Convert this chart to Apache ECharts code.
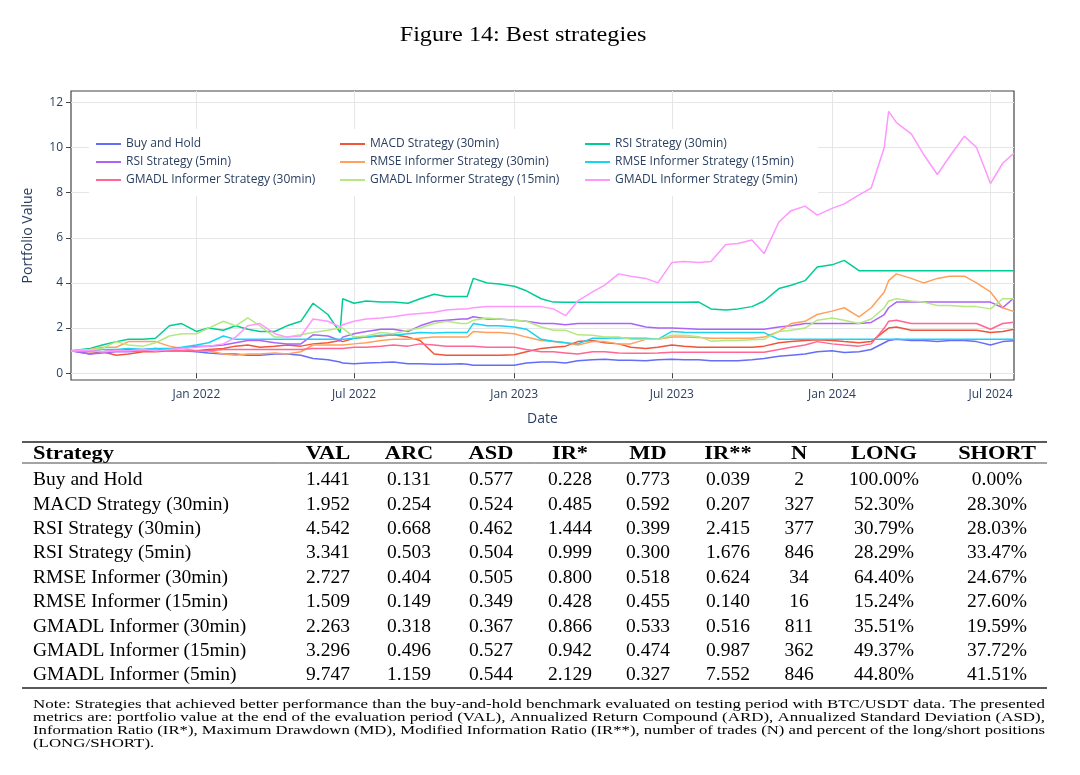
<!DOCTYPE html>
<html>
<head>
<meta charset="utf-8">
<script src="https://cdn.jsdelivr.net/npm/echarts@6.0.0/dist/echarts.min.js"></script>
<style>
html,body{margin:0;padding:0;background:#fff;}
#chart{width:1080px;height:775px;}
</style>
</head>
<body>
<div id="chart"></div>
<script>
// ---------------- DATA ----------------
const dates = [
  '2021-08-10','2021-09-01','2021-09-15','2021-10-01','2021-10-15','2021-11-01','2021-11-15','2021-12-01','2021-12-15',
  '2022-01-01','2022-01-15','2022-02-01','2022-02-15','2022-03-01','2022-03-15','2022-04-01','2022-04-15','2022-05-01','2022-05-15','2022-06-01','2022-06-15','2022-06-18','2022-07-01','2022-07-15','2022-08-01','2022-08-15','2022-09-01','2022-09-15','2022-10-01','2022-10-15','2022-11-01','2022-11-08','2022-11-15','2022-12-01','2022-12-15',
  '2023-01-01','2023-01-15','2023-02-01','2023-02-15','2023-03-01','2023-03-15','2023-04-01','2023-04-15','2023-05-01','2023-05-15','2023-06-01','2023-06-15','2023-07-01','2023-07-15','2023-08-01','2023-08-15','2023-09-01','2023-09-15','2023-10-01','2023-10-15','2023-11-01','2023-11-15','2023-12-01','2023-12-15',
  '2024-01-01','2024-01-15','2024-02-01','2024-02-15','2024-03-01','2024-03-06','2024-03-15','2024-04-01','2024-04-15','2024-05-01','2024-05-15','2024-06-01','2024-06-15','2024-07-01','2024-07-15','2024-07-28'
];

const buyAndHold = [
  1.0,0.85,0.95,1.0,1.05,1.05,1.1,1.0,1.0,
  0.95,0.9,0.85,0.85,0.8,0.8,0.85,0.85,0.8,0.65,0.6,0.5,0.45,0.42,0.45,0.47,0.5,0.42,0.42,0.4,0.4,0.42,0.4,0.35,0.35,0.35,
  0.35,0.45,0.5,0.5,0.45,0.55,0.6,0.62,0.58,0.58,0.55,0.6,0.62,0.6,0.6,0.55,0.55,0.55,0.6,0.65,0.75,0.8,0.85,0.95,
  1.0,0.92,0.95,1.05,1.35,1.45,1.5,1.45,1.45,1.4,1.45,1.45,1.4,1.25,1.4,1.44
];
const macd30 = [
  1.0,0.95,0.95,0.8,0.85,0.95,0.95,1.0,1.0,
  1.0,1.05,1.1,1.2,1.25,1.15,1.2,1.25,1.2,1.3,1.35,1.45,1.4,1.55,1.6,1.65,1.7,1.6,1.45,0.85,0.8,0.8,0.8,0.8,0.8,0.8,
  0.82,0.95,1.1,1.15,1.2,1.4,1.45,1.35,1.3,1.15,1.1,1.15,1.25,1.2,1.15,1.15,1.15,1.15,1.15,1.2,1.35,1.4,1.45,1.48,
  1.45,1.4,1.35,1.4,1.85,2.0,2.05,1.9,1.9,1.9,1.9,1.9,1.9,1.8,1.85,1.95
];
const rsi30 = [
  1.0,1.1,1.25,1.4,1.5,1.5,1.55,2.1,2.2,
  1.85,2.0,1.9,2.1,1.95,1.85,1.85,2.1,2.3,3.1,2.6,1.8,3.3,3.1,3.2,3.15,3.15,3.1,3.3,3.5,3.4,3.4,3.4,4.2,4.0,3.95,
  3.85,3.65,3.3,3.15,3.14,3.14,3.14,3.14,3.14,3.14,3.14,3.14,3.14,3.14,3.15,2.85,2.8,2.85,2.95,3.2,3.75,3.9,4.1,4.7,
  4.8,5.0,4.54,4.54,4.54,4.54,4.54,4.54,4.54,4.54,4.54,4.54,4.54,4.54,4.54,4.54
];
const rsi5 = [
  1.0,0.85,0.9,0.95,0.95,1.0,1.0,1.05,1.1,
  1.2,1.2,1.25,1.35,1.45,1.45,1.35,1.3,1.3,1.7,1.65,1.45,1.6,1.75,1.85,1.95,1.95,1.85,2.1,2.3,2.35,2.4,2.4,2.5,2.4,2.4,
  2.35,2.3,2.2,2.2,2.15,2.2,2.2,2.2,2.2,2.2,2.05,2.0,2.0,1.98,1.95,1.95,1.95,1.95,1.95,1.95,2.05,2.1,2.2,2.2,
  2.2,2.2,2.2,2.25,2.6,2.9,3.15,3.15,3.15,3.15,3.15,3.15,3.15,3.15,2.9,3.34
];
const rmse30 = [
  1.0,1.05,1.15,1.15,1.4,1.4,1.4,1.2,1.1,
  1.0,1.0,0.85,0.8,0.85,0.85,0.9,0.85,0.95,1.25,1.25,1.25,1.25,1.3,1.35,1.45,1.5,1.5,1.55,1.6,1.6,1.6,1.6,1.85,1.8,1.8,
  1.75,1.6,1.45,1.4,1.35,1.25,1.4,1.4,1.3,1.3,1.5,1.5,1.6,1.6,1.58,1.55,1.55,1.55,1.55,1.6,1.85,2.2,2.3,2.6,
  2.75,2.9,2.5,2.9,3.6,4.1,4.4,4.2,4.0,4.2,4.3,4.3,4.0,3.6,2.9,2.73
];
const rmse15 = [
  1.0,1.0,1.05,1.05,1.1,1.05,1.1,1.1,1.15,
  1.25,1.35,1.65,1.5,1.5,1.5,1.5,1.5,1.5,1.5,1.5,1.5,1.5,1.55,1.6,1.68,1.68,1.75,1.8,1.78,1.8,1.8,1.8,2.2,2.1,2.1,
  2.05,1.95,1.5,1.42,1.35,1.3,1.55,1.55,1.57,1.55,1.55,1.5,1.85,1.82,1.8,1.8,1.8,1.8,1.8,1.8,1.5,1.5,1.5,1.5,
  1.5,1.5,1.5,1.5,1.5,1.5,1.5,1.5,1.5,1.5,1.5,1.5,1.5,1.5,1.5,1.51
];
const gmadl30 = [
  1.0,1.0,0.95,1.0,1.0,1.0,1.0,1.0,1.0,
  1.0,1.0,1.05,1.05,1.05,1.05,1.05,1.05,1.05,1.1,1.1,1.1,1.1,1.15,1.15,1.2,1.25,1.2,1.3,1.25,1.2,1.2,1.2,1.2,1.15,1.15,
  1.15,1.05,0.95,0.95,0.9,0.85,0.95,0.95,0.9,0.88,0.88,0.9,0.93,0.93,0.93,0.93,0.93,0.93,0.93,0.93,1.05,1.15,1.25,1.4,
  1.3,1.25,1.2,1.3,2.0,2.3,2.35,2.2,2.2,2.2,2.2,2.2,2.2,1.95,2.2,2.26
];
const gmadl15 = [
  1.0,1.05,1.1,1.4,1.25,1.2,1.35,1.65,1.75,
  1.75,2.0,2.3,2.1,2.45,2.1,1.6,1.6,1.7,1.8,1.9,2.0,2.0,1.6,1.65,1.8,1.75,1.9,2.0,2.2,2.3,2.2,2.2,2.35,2.45,2.4,
  2.35,2.3,2.05,1.9,1.9,1.7,1.68,1.6,1.6,1.5,1.5,1.5,1.68,1.68,1.62,1.42,1.45,1.45,1.48,1.5,1.85,1.9,2.0,2.35,
  2.45,2.35,2.2,2.4,2.9,3.2,3.3,3.2,3.15,3.0,3.0,2.95,2.95,2.85,3.3,3.3
];
const gmadl5 = [
  1.0,1.0,0.95,1.0,1.0,1.05,1.0,1.05,1.1,
  1.15,1.2,1.3,1.6,2.1,2.2,1.75,1.6,1.65,2.4,2.3,2.05,2.15,2.3,2.4,2.45,2.5,2.6,2.65,2.7,2.8,2.85,2.85,2.9,2.95,2.95,
  2.95,2.95,2.95,2.85,2.55,3.2,3.6,3.9,4.4,4.3,4.2,4.0,4.9,4.95,4.9,4.95,5.7,5.75,5.9,5.3,6.7,7.2,7.4,7.0,
  7.3,7.5,7.9,8.2,10.0,11.6,11.1,10.6,9.7,8.8,9.6,10.5,10.0,8.4,9.3,9.75
];

const seriesNames = [
  'Buy and Hold','MACD Strategy (30min)','RSI Strategy (30min)',
  'RSI Strategy (5min)','RMSE Informer Strategy (30min)','RMSE Informer Strategy (15min)',
  'GMADL Informer Strategy (30min)','GMADL Informer Strategy (15min)','GMADL Informer Strategy (5min)'
];
const seriesValues = [buyAndHold, macd30, rsi30, rsi5, rmse30, rmse15, gmadl30, gmadl15, gmadl5];

const yTicks = [0, 2, 4, 6, 8, 10, 12];
const xTickDates = ['2022-01-01','2022-07-01','2023-01-01','2023-07-01','2024-01-01','2024-07-01'];
const xTickLabels = ['Jan 2022','Jul 2022','Jan 2023','Jul 2023','Jan 2024','Jul 2024'];

// table
const tableHeaders = ['Strategy','VAL','ARC','ASD','IR*','MD','IR**','N','LONG','SHORT'];
const tableStrategy = ['Buy and Hold','MACD Strategy (30min)','RSI Strategy (30min)','RSI Strategy (5min)','RMSE Informer (30min)','RMSE Informer (15min)','GMADL Informer (30min)','GMADL Informer (15min)','GMADL Informer (5min)'];
const tableVAL = ['1.441','1.952','4.542','3.341','2.727','1.509','2.263','3.296','9.747'];
const tableARC = ['0.131','0.254','0.668','0.503','0.404','0.149','0.318','0.496','1.159'];
const tableASD = ['0.577','0.524','0.462','0.504','0.505','0.349','0.367','0.527','0.544'];
const tableIR1 = ['0.228','0.485','1.444','0.999','0.800','0.428','0.866','0.942','2.129'];
const tableMD = ['0.773','0.592','0.399','0.300','0.518','0.455','0.533','0.474','0.327'];
const tableIR2 = ['0.039','0.207','2.415','1.676','0.624','0.140','0.516','0.987','7.552'];
const tableN = ['2','327','377','846','34','16','811','362','846'];
const tableLONG = ['100.00%','52.30%','30.79%','28.29%','64.40%','15.24%','35.51%','49.37%','44.80%'];
const tableSHORT = ['0.00%','28.30%','28.03%','33.47%','24.67%','27.60%','19.59%','37.72%','41.51%'];

const titleText = 'Figure 14: Best strategies';
const noteLines = [
  'Note: Strategies that achieved better performance than the buy-and-hold benchmark evaluated on testing period with BTC/USDT data. The presented',
  'metrics are: portfolio value at the end of the evaluation period (VAL), Annualized Return Compound (ARD), Annualized Standard Deviation (ASD),',
  'Information Ratio (IR*), Maximum Drawdown (MD), Modified Information Ratio (IR**), number of trades (N) and percent of the long/short positions',
  '(LONG/SHORT).'
];

// ---------------- STYLE / LAYOUT ----------------
const colors = ['#636efa','#EF553B','#00cc96','#ab63fa','#FFA15A','#19d3f3','#FF6692','#B6E880','#FF97FF'];
const axisColor = '#2a3f5f';
const sans = '"Open Sans", sans-serif';
const serif = '"Liberation Serif", serif';

function ts(s) { const p = s.split('-').map(Number); return Date.UTC(p[0], p[1] - 1, p[2]); }
const xTickTimes = xTickDates.map(ts);

const series = seriesNames.map((name, i) => ({
  name: name,
  type: 'line',
  symbol: 'none',
  showSymbol: false,
  animation: false,
  lineStyle: { width: 1.5, color: colors[i] },
  itemStyle: { color: colors[i] },
  data: dates.map((d, k) => [ts(d), seriesValues[i][k]])
}));

const legendBase = {
  orient: 'vertical', top: 138, padding: 0, itemWidth: 25, itemHeight: 12, itemGap: 6,
  itemStyle: { opacity: 0 },
  lineStyle: { width: 2 },
  textStyle: { fontFamily: sans, fontSize: 12, color: axisColor }, selectedMode: false
};
const legends = [
  Object.assign({}, legendBase, { left: 95, data: [seriesNames[0], seriesNames[3], seriesNames[6]] }),
  Object.assign({}, legendBase, { left: 339, data: [seriesNames[1], seriesNames[4], seriesNames[7]] }),
  Object.assign({}, legendBase, { left: 584, data: [seriesNames[2], seriesNames[5], seriesNames[8]] })
];

// graphic: title, table, note
const graphics = [];
graphics.push({ type: 'rect', z: 3, silent: true, shape: { x: 89, y: 129, width: 729, height: 67 }, style: { fill: '#fff' } });
graphics.push({ type: 'text', z: 10, x: 523, y: 35, scaleX: 1.1, style: { text: titleText, font: '22px ' + serif, fill: '#000', textAlign: 'center', textVerticalAlign: 'middle' } });

const colX = [33, 328, 409, 491, 570, 648, 728, 799, 884, 997];
const headerY = 454;
const rowY0 = 480, rowH = 24.4;
const bodyFont = '19.5px ' + serif;
const headFont = 'bold 19.5px ' + serif;
const tableCols = [tableStrategy, tableVAL, tableARC, tableASD, tableIR1, tableMD, tableIR2, tableN, tableLONG, tableSHORT];

tableHeaders.forEach((h, c) => {
  graphics.push({ type: 'text', z: 10, x: colX[c], y: headerY, scaleX: 1.15, style: { text: h, font: headFont, fill: '#000', textAlign: c === 0 ? 'left' : 'center', textVerticalAlign: 'middle' } });
});
tableCols.forEach((col, c) => {
  col.forEach((v, r) => {
    graphics.push({ type: 'text', z: 10, x: colX[c], y: rowY0 + r * rowH, style: { text: v, font: bodyFont, fill: '#000', textAlign: c === 0 ? 'left' : 'center', textVerticalAlign: 'middle' } });
  });
});
// rules
graphics.push({ type: 'line', z: 10, shape: { x1: 22, y1: 442, x2: 1047, y2: 442 }, style: { stroke: '#222', lineWidth: 1.3 } });
graphics.push({ type: 'line', z: 10, shape: { x1: 22, y1: 463, x2: 1047, y2: 463 }, style: { stroke: '#333', lineWidth: 0.9 } });
graphics.push({ type: 'line', z: 10, shape: { x1: 22, y1: 688, x2: 1047, y2: 688 }, style: { stroke: '#222', lineWidth: 1.3 } });

// note lines (stretched to the justified width)
const noteFont = '12px ' + serif;
const mctx = document.createElement('canvas').getContext('2d');
mctx.font = noteFont;
const noteW = 1012;
const scales = noteLines.map(l => noteW / mctx.measureText(l).width);
const avgScale = (scales[0] + scales[1] + scales[2]) / 3;
noteLines.forEach((l, i) => {
  graphics.push({ type: 'text', z: 10, x: 33, y: 704.5 + i * 13, scaleX: i < 3 ? scales[i] : avgScale, style: { text: l, font: noteFont, fill: '#000', textAlign: 'left', textVerticalAlign: 'middle' } });
});

const chart = echarts.init(document.getElementById('chart'));
chart.setOption({
  animation: false,
  backgroundColor: '#fff',
  grid: { left: 71, right: 66, top: 91, bottom: 395, show: true, borderColor: '#444', borderWidth: 1.2, backgroundColor: '#fff', containLabel: false },
  legend: legends,
  xAxis: {
    type: 'value',
    min: ts(dates[0]), max: ts(dates[dates.length - 1]),
    name: 'Date', nameLocation: 'middle', nameGap: 32,
    nameTextStyle: { fontFamily: sans, fontSize: 14, color: axisColor },
    axisLine: { show: false },
    axisTick: { show: true, length: 5, lineStyle: { color: '#444' }, customValues: xTickTimes },
    axisLabel: {
      customValues: xTickTimes, fontFamily: sans, fontSize: 12, color: axisColor, margin: 9,
      formatter: function (v) { const i = xTickTimes.indexOf(v); return i >= 0 ? xTickLabels[i] : ''; }
    },
    splitLine: { show: true, lineStyle: { color: '#e6e6e6', width: 1 } }
  },
  yAxis: {
    type: 'value', min: -0.3, max: 12.5, splitNumber: 6,
    name: 'Portfolio Value', nameLocation: 'middle', nameGap: 36,
    nameTextStyle: { fontFamily: sans, fontSize: 14, color: axisColor },
    axisLine: { show: false },
    axisTick: { show: true, length: 5, lineStyle: { color: '#444' }, customValues: yTicks },
    axisLabel: { customValues: yTicks, fontFamily: sans, fontSize: 12, color: axisColor, margin: 8 },
    splitLine: { show: true, lineStyle: { color: '#e6e6e6', width: 1 } }
  },
  graphic: { elements: graphics },
  series: series
});
</script>
</body>
</html>
